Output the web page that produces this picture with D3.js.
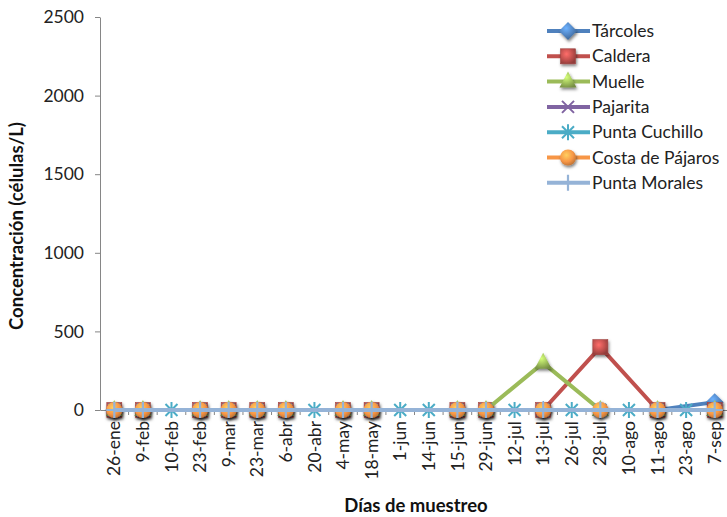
<!DOCTYPE html>
<html><head><meta charset="utf-8">
<script src="https://cdnjs.cloudflare.com/ajax/libs/d3/7.8.5/d3.min.js"></script>
<style>body{margin:0;background:#fff}svg{display:block}text{font-family:Lato,"Open Sans",sans-serif}</style>
</head><body><svg id="c" width="727" height="517"></svg>
<script>
const categories = ["26-ene","9-feb","10-feb","23-feb","9-mar","23-mar","6-abr","20-abr","4-may","18-may","1-jun","14-jun","15-jun","29-jun","12-jul","13-jul","26-jul","28-jul","10-ago","11-ago","23-ago","7-sep"];
const seriesNames = ["Tárcoles","Caldera","Muelle","Pajarita","Punta Cuchillo","Costa de Pájaros","Punta Morales"];
const tarcoles   = [0,0,null,0,0,0,0,null,0,0,null,null,0,0,null,0,null,0,null,0,null,50];
const caldera    = [0,0,null,0,0,0,0,null,0,0,null,null,0,0,null,0,null,400,null,0,null,0];
const muelle     = [0,0,null,0,0,0,0,null,0,0,null,null,0,0,null,300,null,0,null,0,null,0];
const pajarita   = [0,0,null,0,0,0,0,null,0,0,null,null,0,0,null,0,null,0,null,0,null,0];
const puntaCuchillo = [0,0,0,0,0,0,0,0,0,0,0,0,0,0,0,0,0,0,0,0,0,0];
const costaPajaros  = [0,0,null,0,0,0,0,null,0,0,null,null,0,0,null,0,null,0,null,0,null,0];
const puntaMorales  = [0,0,null,0,0,0,0,null,0,0,null,null,0,0,null,0,null,0,null,0,null,0];
const yTicks = [0,500,1000,1500,2000,2500];

const colors = ["#4F81BD","#C0504D","#9BBB59","#8064A2","#4BACC6","#F79646","#95B3D7"];
const shapes = ["diamond","square","triangle","x","star","circle","plus"];
const allValues = [tarcoles,caldera,muelle,pajarita,puntaCuchillo,costaPajaros,puntaMorales];

const svg = d3.select("#c");
const defs = svg.append("defs");
const sh = defs.append("filter").attr("id","sh").attr("x","-50%").attr("y","-50%").attr("width","200%").attr("height","200%");
sh.append("feDropShadow").attr("dx",1).attr("dy",2).attr("stdDeviation",1.5).attr("flood-color","#000").attr("flood-opacity",0.5);
colors.forEach((c,i)=>{
  const g = defs.append("radialGradient").attr("id","g"+i).attr("cx","40%").attr("cy","35%").attr("r","70%");
  g.append("stop").attr("offset","0%").attr("stop-color",d3.color(c).brighter(0.9));
  g.append("stop").attr("offset","60%").attr("stop-color",c);
  g.append("stop").attr("offset","100%").attr("stop-color",d3.color(c).darker(0.8));
});

const x0 = 100, x1 = 729;
const x = d3.scaleBand().domain(categories).range([x0,x1]);
const y = d3.scaleLinear().domain([0,2500]).range([410,17]);
const cx = d => x(d) + x.bandwidth()/2;

// Y axis
const ya = svg.append("g").attr("transform",`translate(${x0},0)`).call(d3.axisLeft(y).tickValues(yTicks).tickFormat(d3.format("d")).tickSize(5).tickSizeOuter(0).tickPadding(11));
ya.select(".domain").attr("stroke","#868686");
ya.selectAll(".tick line").attr("stroke","#868686");
ya.selectAll("text").attr("font-size",17.5).attr("fill","#222");
// X axis
const xa = svg.append("g").attr("transform",`translate(0,${y(0)})`).call(d3.axisBottom(x).tickSize(0).tickSizeOuter(0));
xa.select(".domain").attr("stroke","#868686");
xa.selectAll("text").attr("font-size",17.5).attr("fill","#222")
  .attr("transform","rotate(-90)").attr("text-anchor","end").attr("x",-11).attr("y",0).attr("dy","0.35em");
// boundary ticks
svg.append("g").selectAll("line").data(categories.slice(1)).join("line")
  .attr("x1",d=>x(d)).attr("x2",d=>x(d)).attr("y1",y(0)).attr("y2",y(0)+5).attr("stroke","#868686");

// Axis titles
svg.append("text").attr("transform","translate(23,226) rotate(-90)").attr("text-anchor","middle")
  .attr("font-size",18.5).attr("font-weight","bold").attr("fill","#111").text("Concentración (células/L)");
svg.append("text").attr("x",416).attr("y",512).attr("text-anchor","middle")
  .attr("font-size",18.5).attr("font-weight","bold").attr("fill","#111").text("Días de muestreo");

function marker(g, shape, i, px, py){
  const fill = `url(#g${i})`, col = colors[i];
  let m;
  if(shape==="diamond") m = g.append("path").attr("d",`M${px},${py-9}L${px+9},${py}L${px},${py+9}L${px-9},${py}Z`).attr("fill",fill);
  else if(shape==="square") m = g.append("rect").attr("x",px-7.5).attr("y",py-7.5).attr("width",15).attr("height",15).attr("fill",fill).attr("stroke",d3.color(col).darker(0.5)).attr("stroke-width",0.6);
  else if(shape==="triangle") m = g.append("path").attr("d",`M${px},${py-10}L${px+8.5},${py+6}L${px-8.5},${py+6}Z`).attr("fill",fill);
  else if(shape==="circle") m = g.append("circle").attr("cx",px).attr("cy",py).attr("r",8).attr("fill",fill);
  else if(shape==="x") m = g.append("path").attr("d",`M${px-6},${py-6}L${px+6},${py+6}M${px-6},${py+6}L${px+6},${py-6}`).attr("stroke",col).attr("stroke-width",2);
  else if(shape==="star") m = g.append("path").attr("d",`M${px-6},${py-6}L${px+6},${py+6}M${px-6},${py+6}L${px+6},${py-6}M${px},${py-8}L${px},${py+8}`).attr("stroke",col).attr("stroke-width",2);
  else if(shape==="plus") m = g.append("path").attr("d",`M${px-8},${py}L${px+8},${py}M${px},${py-8}L${px},${py+8}`).attr("stroke",col).attr("stroke-width",2.2);
  if(shape!=="x" && shape!=="star" && shape!=="plus") m.attr("filter","url(#sh)");
}

const line = d3.line().x(d=>cx(d.c)).y(d=>y(d.v));
allValues.forEach((vals,i)=>{
  const pts = categories.map((c,j)=>({c,v:vals[j]})).filter(d=>d.v!==null);
  const g = svg.append("g");
  g.append("path").datum(pts).attr("d",line).attr("fill","none").attr("stroke",colors[i]).attr("stroke-width",4).attr("stroke-linejoin","round");
  pts.forEach(d=>marker(g, shapes[i], i, cx(d.c), y(d.v)));
});

// Legend
const lg = svg.append("g");
seriesNames.forEach((n,i)=>{
  const ly = 31 + i*25.3;
  lg.append("line").attr("x1",547).attr("x2",590).attr("y1",ly).attr("y2",ly).attr("stroke",colors[i]).attr("stroke-width",4);
  marker(lg, shapes[i], i, 568, ly);
  lg.append("text").attr("x",592).attr("y",ly).attr("dy","0.35em").attr("font-size",17.5).attr("fill","#222").text(n);
});
</script></body></html>
